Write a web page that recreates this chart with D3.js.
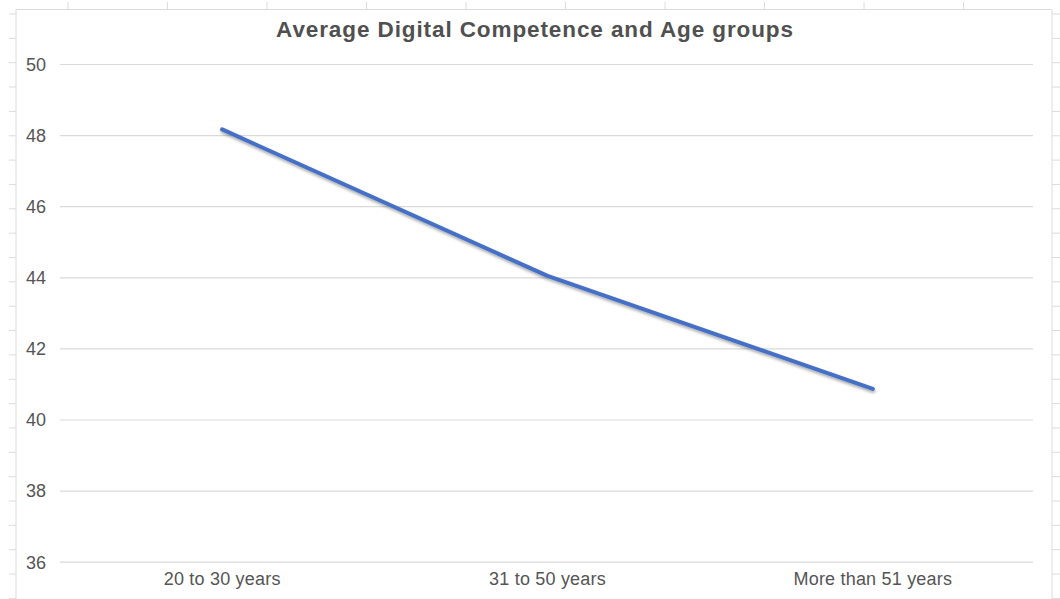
<!DOCTYPE html>
<html>
<head>
<meta charset="utf-8">
<script src="https://cdn.jsdelivr.net/npm/d3@7"></script>
<style>
  body { margin: 0; background: #fff; }
  text { font-family: "Liberation Sans", Arial, sans-serif; }
</style>
</head>
<body>
<div id="chart"></div>
<script>
// chart data
const ageGroups = ["20 to 30 years", "31 to 50 years", "More than 51 years"];
const avgCompetence = [48.16, 44.04, 40.86];
const yTicks = [36, 38, 40, 42, 44, 46, 48, 50];
const chartTitle = "Average Digital Competence and Age groups";

const width = 1060, height = 599;

const svg = d3.select("#chart").append("svg")
    .attr("width", width)
    .attr("height", height);

// spreadsheet cell lines peeking around the chart frame
const frame = {left: 16, top: 9.5, right: 1052};
const deco = svg.append("g").attr("stroke", "#dcdcdc").attr("stroke-width", 1);
d3.range(14, height, 24.35).forEach(function(y) {
    deco.append("line").attr("x1", 9).attr("x2", frame.left).attr("y1", y).attr("y2", y);
    deco.append("line").attr("x1", frame.right).attr("x2", width).attr("y1", y).attr("y2", y);
});
d3.range(68, frame.right, 99.5).forEach(function(x) {
    deco.append("line").attr("x1", x).attr("x2", x).attr("y1", 2).attr("y2", frame.top);
});
deco.append("path")
    .attr("fill", "none")
    .attr("d", "M" + frame.left + "," + height + "V" + frame.top + "H" + frame.right + "V" + height);

// scales
const x = d3.scaleBand()
    .domain(ageGroups)
    .range([59.5, 1035.5]);

const y = d3.scaleLinear()
    .domain([36, 50])
    .range([561.7, 64]);

// gridlines + y labels
const yAxis = d3.axisLeft(y)
    .tickValues(yTicks)
    .tickSize(-(1033 - 60))
    .tickPadding(14)
    .tickFormat(d3.format("d"));

const yG = svg.append("g")
    .attr("transform", "translate(60,0)")
    .call(yAxis);
yG.select(".domain").remove();
yG.selectAll(".tick line").attr("stroke", "#d9d9d9").attr("stroke-width", 1.2);
yG.selectAll(".tick text")
    .attr("fill", "#555")
    .style("font-size", "18px")
    .attr("dy", "0.35em");

// x labels
const xAxis = d3.axisBottom(x).tickSize(0).tickPadding(11);
const xG = svg.append("g")
    .attr("transform", "translate(0," + 561.7 + ")")
    .call(xAxis);
xG.select(".domain").remove();
xG.selectAll(".tick text")
    .attr("fill", "#555")
    .style("font-size", "18px")
    .style("letter-spacing", "0.2px");

// title
svg.append("text")
    .attr("x", 535)
    .attr("y", 37)
    .attr("text-anchor", "middle")
    .attr("fill", "#505050")
    .style("font-size", "22.5px")
    .style("font-weight", "bold")
    .style("letter-spacing", "0.9px")
    .text(chartTitle);

// line with soft shadow
const defs = svg.append("defs");
defs.append("filter")
    .attr("id", "shadow")
    .attr("x", "-10%").attr("y", "-10%")
    .attr("width", "120%").attr("height", "130%")
    .append("feDropShadow")
    .attr("dx", 0.5)
    .attr("dy", 2)
    .attr("stdDeviation", 1.5)
    .attr("flood-color", "#000")
    .attr("flood-opacity", 0.35);

const points = ageGroups.map((g, i) => ({group: g, value: avgCompetence[i]}));

const line = d3.line()
    .x(d => x(d.group) + x.bandwidth() / 2)
    .y(d => y(d.value));

svg.append("path")
    .datum(points)
    .attr("d", line)
    .attr("fill", "none")
    .attr("stroke", "#4470c6")
    .attr("stroke-width", 4)
    .attr("stroke-linecap", "round")
    .attr("stroke-linejoin", "round")
    .attr("filter", "url(#shadow)");
</script>
</body>
</html>
